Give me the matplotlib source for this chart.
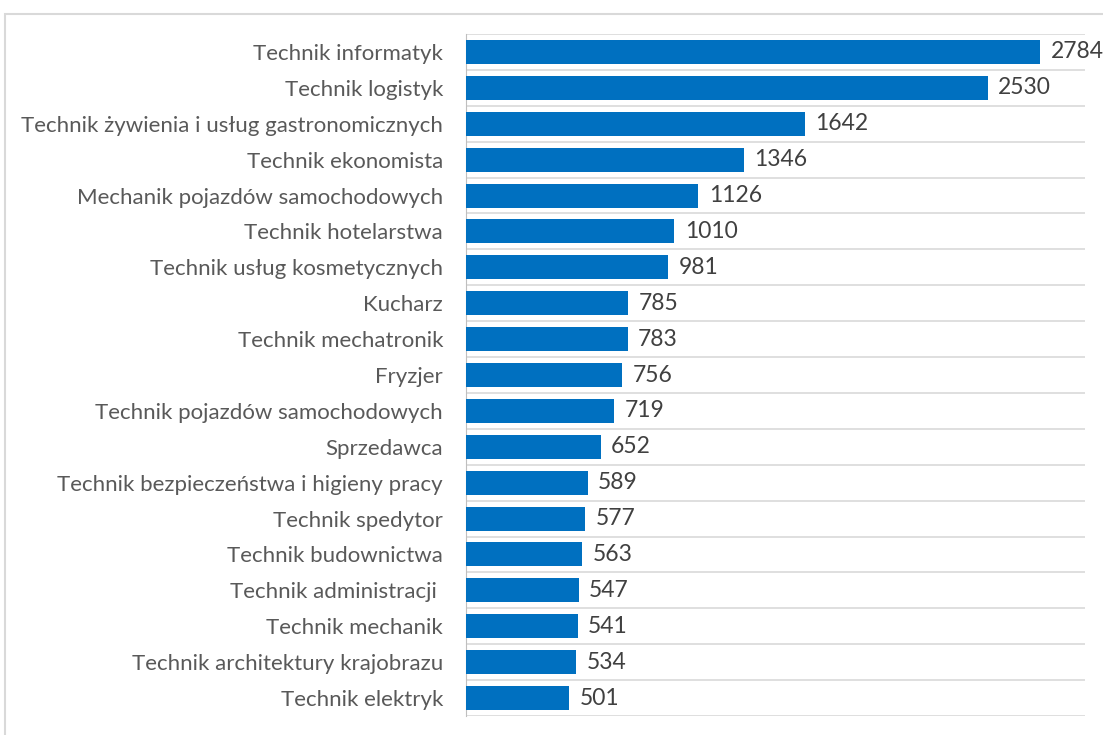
import matplotlib
matplotlib.use("Agg")
import matplotlib.pyplot as plt
from matplotlib.patches import Rectangle

categories = [
    "Technik informatyk",
    "Technik logistyk",
    "Technik żywienia i usług gastronomicznych",
    "Technik ekonomista",
    "Mechanik pojazdów samochodowych",
    "Technik hotelarstwa",
    "Technik usług kosmetycznych",
    "Kucharz",
    "Technik mechatronik",
    "Fryzjer",
    "Technik pojazdów samochodowych",
    "Sprzedawca",
    "Technik bezpieczeństwa i higieny pracy",
    "Technik spedytor",
    "Technik budownictwa",
    "Technik administracji ",
    "Technik mechanik",
    "Technik architektury krajobrazu",
    "Technik elektryk",
]
values = [2784, 2530, 1642, 1346, 1126, 1010, 981, 785, 783, 756, 719, 652, 589, 577, 563, 547, 541, 534, 501]

plt.rcParams['font.family'] = ['Lato', 'DejaVu Sans']

fig = plt.figure(figsize=(11.03, 7.35), dpi=100)
fig.patch.set_facecolor("white")
# outer chart border
fig.patches.append(Rectangle((4.5 / 1103, -0.1), 1.2, 1 - 14 / 735 + 0.1,
                             transform=fig.transFigure, fill=False,
                             edgecolor="#D9D9D9", linewidth=1.5))

ax = fig.add_axes([466 / 1103, 1 - 716 / 735, (1085 - 466) / 1103, (716 - 34) / 735])
n = len(categories)
ypos = list(range(n))
ax.barh(ypos, values, height=0.67, color="#0070C0", zorder=3)
ax.set_ylim(n - 0.5, -0.5)
ax.set_xlim(0, 3000)
ax.set_yticks(ypos)
ax.set_yticklabels(categories, fontsize=16, color="#595959")
ax.tick_params(axis="y", length=0, pad=16.5)
ax.set_xticks([])
for b in [i - 0.5 for i in range(n + 1)]:
    ax.axhline(b, color="#D9D9D9", linewidth=1.2, zorder=1)
for s in ["top", "right", "bottom"]:
    ax.spines[s].set_visible(False)
ax.spines["left"].set_color("#BFBFBF")
for y, v in zip(ypos, values):
    ax.text(v + 50, y, str(v), va="center", ha="left", fontsize=16.5, color="#404040",
            clip_on=False)

fig.savefig("out.png", dpi=100)
